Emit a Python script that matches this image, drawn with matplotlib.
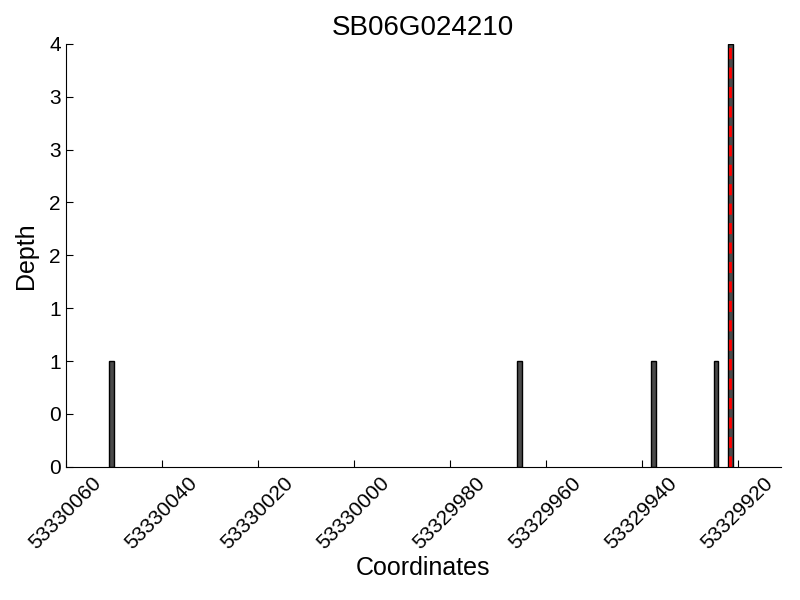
import matplotlib
matplotlib.use("Agg")
import matplotlib.pyplot as plt
from matplotlib.ticker import FuncFormatter, MultipleLocator

plt.rcParams["font.family"] = ["Liberation Sans", "DejaVu Sans"]

gene = "SB06G024210"
positions = [53330050, 53329965, 53329937, 53329924, 53329921]
depths = [1, 1, 1, 1, 4]
marker_pos = 53329921.5
xlim = (53330060, 53329911)

fig = plt.figure(figsize=(8, 6), dpi=100)
ax = fig.add_axes([0.082, 0.222, 0.894, 0.705])

ax.bar(positions, depths, width=1, align="edge", color="#4a4a4a",
       edgecolor="black", linewidth=1)
ax.axvline(marker_pos, color="red", linestyle="--", linewidth=2, dashes=(4, 3))

ax.set_xlim(*xlim)
ax.set_ylim(0, 4)
ax.xaxis.set_major_locator(MultipleLocator(20))
ax.yaxis.set_major_locator(MultipleLocator(0.5))
ax.yaxis.set_major_formatter(FuncFormatter(lambda v, p: f"{int(v)}"))
ax.xaxis.set_major_formatter(FuncFormatter(lambda v, p: f"{int(round(v))}"))

for s in ("top", "right"):
    ax.spines[s].set_visible(False)
ax.tick_params(direction="in", length=5, labelsize=15, top=False, right=False)
ax.tick_params(axis="x", pad=5)
plt.setp(ax.get_xticklabels(), rotation=45, ha="center")

ax.set_title(gene, fontsize=20)
ax.set_xlabel("Coordinates", fontsize=18, labelpad=2)
ax.set_ylabel("Depth", fontsize=18, labelpad=8)

fig.savefig("out.png", dpi=100)
